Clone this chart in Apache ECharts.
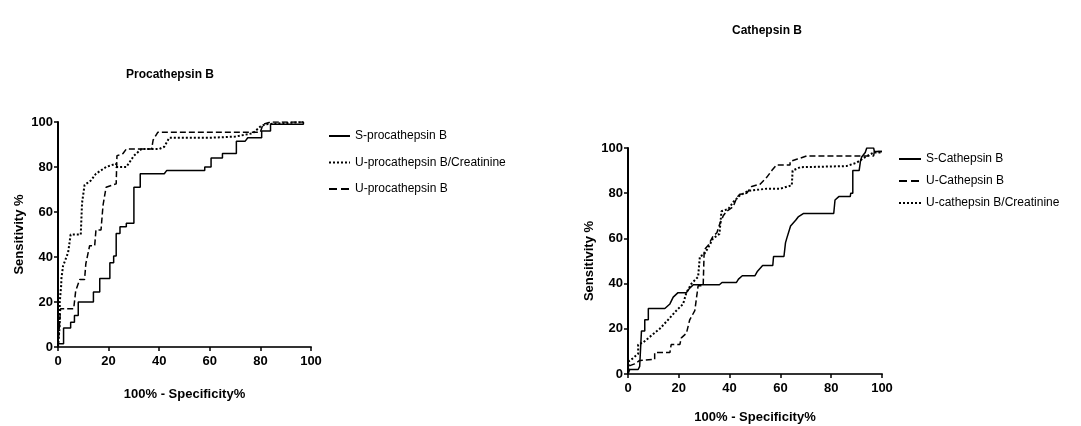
<!DOCTYPE html>
<html>
<head>
<meta charset="utf-8">
<script src="https://cdn.jsdelivr.net/npm/echarts@6/dist/echarts.min.js"></script>
<style>
  html, body { margin: 0; padding: 0; background: #fff; }
  #main { width: 1081px; height: 426px; }
</style>
</head>
<body>
<div id="main"></div>
<script>
// ROC curves, [100% - specificity, sensitivity]
const procS = [[0,0],[0,1.5],[2.2,1.5],[2.2,8.5],[5,8.5],[5,11],[6.5,11],[6.5,14],[8,14],[8,20],[14,20],[14,24.5],[16.5,24.5],[16.5,30.5],[20.5,30.5],[20.5,37.5],[22,37.5],[22,40.5],[23,40.5],[23,50.5],[24.5,50.5],[24.5,53.5],[27,53.5],[27,55],[30,55],[30,71],[32.5,71],[32.5,77],[42,77],[43,78.5],[58,78.5],[58,80],[60.5,80],[60.5,84],[65,84],[65,86],[70.5,86],[70.5,91.5],[74,91.5],[75,93],[80.5,93],[80.5,96],[84,96],[84,99],[97,99],[97,100]];
const procUCrea = [[0,0],[0.7,10],[0.7,20],[1.3,28],[1.3,30],[2,36],[4,42],[5,50],[9,50],[9.5,64],[10.5,72],[13,74],[15,77],[19,80],[23,81.5],[23,80],[27,80],[30,85],[33,88],[40,88],[42,89],[44,93],[60,93],[70,93.5],[77,95],[80,98],[82,99],[97,100]];
const procU = [[0,0],[1,17],[6.2,17],[7,25],[8.6,30],[10.5,30],[11,37],[12.5,45],[14.5,45],[15,52],[17,52],[17.8,63],[19,71],[23,72.5],[23.3,85],[25.7,86],[27,88],[37,88],[37.6,92],[39.5,95.5],[80,95.5],[81,99],[84,100],[97,100]];

const catS = [[0,0],[0.7,2],[4,2],[4.6,3.4],[5.3,3.4],[5.3,19],[6.6,19],[6.6,24],[8,24],[8,29],[14.5,29],[16.5,31],[17.8,34],[19.7,36],[23,36],[24.3,38],[25.7,39.5],[36,39.5],[37,40.5],[42.7,40.5],[43.5,42],[45,43.5],[50,43.5],[51,45.5],[53,48],[57,48],[57.3,52],[61.4,52],[62,58],[62.5,60],[64,65.5],[66,68],[67,69.5],[69,71],[81,71],[81.5,77],[83,78.5],[87.5,78.5],[87.7,80],[88.5,80],[88.5,90],[91,90],[91.5,94],[92,96],[93.4,98],[94,100],[96.7,100],[97,98.5],[100,98.5]];
const catU = [[0,0],[0,3.4],[2.6,4.5],[4.6,6],[10.5,6.5],[10.5,9.5],[16.5,9.5],[17,13],[20.4,13],[21,16],[23,18],[24.3,24],[26.3,28],[27.6,39],[29.6,39],[30,55],[31.6,57],[33.5,61],[35,62.5],[36,66],[37.5,70],[38.8,72],[41.4,74],[42.8,78],[44,79.5],[46.7,80],[48.7,83],[52,84],[54.6,87],[56.6,90],[58.5,92.5],[63.8,92.5],[63.8,94],[66.4,95],[70.4,96.5],[96.7,96.5],[97,98.5],[100,98.5]];
const catUCrea = [[0,0],[0.3,5.6],[2,7],[4,9],[4,13],[6,14],[9.2,17],[12.5,20],[15.8,24],[19,28],[21.7,31],[23,36],[25,40],[27.6,43],[28.3,52],[30,53],[31.6,56],[33.5,60],[36,62],[36.8,72],[39.5,73],[41.4,76],[44,79],[47.4,81],[54.6,82],[59.9,82],[64.5,83.5],[64.8,90],[67.8,91.5],[86,92],[90,93.5],[93.4,96],[96.7,98],[100,98]];

const chart = echarts.init(document.getElementById("main"));

const font = "Liberation Sans, Arial, sans-serif";
const boldText = { fontFamily: font, fontWeight: "bold", fontSize: 13, color: "#000" };

function xAxisOf(gridIndex, gap) {
  return {
    gridIndex,
    type: "value",
    min: 0,
    max: 100,
    interval: 20,
    name: "100% - Specificity%",
    nameLocation: "middle",
    nameGap: gap,
    nameTextStyle: boldText,
    axisLine: { show: true, onZero: false, lineStyle: { color: "#333", width: 2 } },
    axisTick: { show: true, length: 4, lineStyle: { color: "#000", width: 1.5 } },
    axisLabel: Object.assign({ margin: 8 }, boldText),
    splitLine: { show: false },
  };
}

function yAxisOf(gridIndex) {
  return {
    gridIndex,
    type: "value",
    min: 0,
    max: 100,
    interval: 20,
    name: "Sensitivity %",
    nameLocation: "middle",
    nameGap: 32,
    nameTextStyle: boldText,
    axisLine: { show: true, lineStyle: { color: "#000", width: 2 } },
    axisTick: { show: true, length: 4, lineStyle: { color: "#000", width: 1.5 } },
    axisLabel: Object.assign({ margin: 5 }, boldText),
    splitLine: { show: false },
  };
}

function curve(name, data, type, idx) {
  return {
    name,
    type: "line",
    xAxisIndex: idx,
    yAxisIndex: idx,
    data,
    symbol: "none",
    animation: false,
    lineStyle: { color: "#000", width: type === "dotted" ? 2 : 1.5, type },
    itemStyle: { color: "#000" },
  };
}

const legendText = { fontFamily: font, fontSize: 12, color: "#000" };

const option = {
  backgroundColor: "#fff",
  title: [
    { text: "Procathepsin B", left: 165, top: 64, textAlign: "center",
      textStyle: { fontFamily: font, fontWeight: "bold", fontSize: 12, color: "#000" } },
    { text: "Cathepsin B", left: 762, top: 20, textAlign: "center",
      textStyle: { fontFamily: font, fontWeight: "bold", fontSize: 12, color: "#000" } },
  ],
  legend: [
    { orient: "vertical", left: 323, top: 125, itemGap: 14.5, itemWidth: 21, itemHeight: 8,
      itemStyle: { opacity: 0 }, textStyle: legendText,
      data: ["S-procathepsin B", "U-procathepsin B/Creatinine", "U-procathepsin B"] },
    { orient: "vertical", left: 893, top: 148, itemGap: 10, itemWidth: 22, itemHeight: 8,
      itemStyle: { opacity: 0 }, textStyle: legendText,
      data: ["S-Cathepsin B", "U-Cathepsin B", "U-cathepsin B/Creatinine"] },
  ],
  grid: [
    { left: 58, top: 122, width: 253, height: 225, outerBoundsMode: "none" },
    { left: 628, top: 148, width: 254, height: 226, outerBoundsMode: "none" },
  ],
  xAxis: [xAxisOf(0, 41), xAxisOf(1, 37)],
  yAxis: [yAxisOf(0), yAxisOf(1)],
  series: [
    curve("S-procathepsin B", procS, "solid", 0),
    curve("U-procathepsin B/Creatinine", procUCrea, "dotted", 0),
    curve("U-procathepsin B", procU, "dashed", 0),
    curve("S-Cathepsin B", catS, "solid", 1),
    curve("U-Cathepsin B", catU, "dashed", 1),
    curve("U-cathepsin B/Creatinine", catUCrea, "dotted", 1),
  ],
};

chart.setOption(option);
</script>
</body>
</html>
